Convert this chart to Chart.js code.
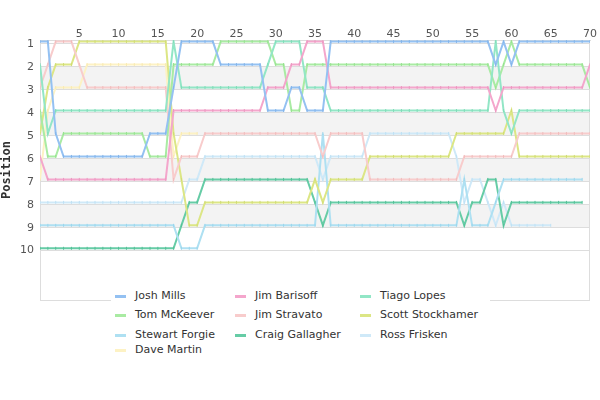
<!DOCTYPE html>
<html lang="en">
<head>
  <meta charset="UTF-8" />
  <title>Lap Chart</title>
  <script src="https://cdn.jsdelivr.net/npm/chart.js"></script>
  <style>
    html, body { margin: 0; padding: 0; background: white; }
    #wrap { position: relative; width: 600px; height: 400px; }
    #chart { position: absolute; left: 0; top: 0; }
    #legend {
      position: absolute; left: 111px; top: 286px; width: 379px; height: 76px;
      background: white; font-family: "DejaVu Sans", sans-serif; font-size: 11px; color: #333;
    }
    .item { position: absolute; white-space: nowrap; line-height: 14px; }
    .swatch { position: absolute; left: 0; top: 6px; width: 11px; height: 3px; }
    .label { position: absolute; left: 20px; top: 0; }
  </style>
</head>
<body>
  <div id="wrap">
    <canvas id="chart" width="600" height="400"></canvas>
    <div id="legend"></div>
  </div>
  <script>
    const laps = [0,1,2,3,4,5,6,7,8,9,10,11,12,13,14,15,16,17,18,19,20,21,22,23,24,25,26,27,28,29,30,
      31,32,33,34,35,36,37,38,39,40,41,42,43,44,45,46,47,48,49,50,51,52,53,54,55,56,57,58,59,60,
      61,62,63,64,65,66,67,68,69,70];
    const xTicks = [5,10,15,20,25,30,35,40,45,50,55,60,65,70];
    const yTicks = [1,2,3,4,5,6,7,8,9,10];

    const drivers = ['Josh Mills','Jim Barisoff','Tiago Lopes','Tom McKeever','Jim Stravato',
      'Scott Stockhamer','Stewart Forgie','Craig Gallagher','Ross Frisken','Dave Martin'];

    // position per lap, lap 0..70 (null = retired)
    const joshMills = [1,1,5,6,6,6,6,6,6,6,6,6,6,6,5,5,5,3,1,1,1,1,1,2,2,2,2,2,2,4,4,4,3,3,4,4,4,
      1,1,1,1,1,1,1,1,1,1,1,1,1,1,1,1,1,1,1,1,1,2,1,2,1,1,1,1,1,1,1,1,1,1];
    const jimBarisoff = [6,7,7,7,7,7,7,7,7,7,7,7,7,7,7,7,7,4,4,4,4,4,4,4,4,4,4,4,4,3,3,3,2,2,1,1,1,
      3,3,3,3,3,3,3,3,3,3,3,3,3,3,3,3,3,3,3,3,3,4,3,3,3,3,3,3,3,3,3,3,3,2];
    const tiagoLopes = [2,5,4,4,4,4,4,4,4,4,4,4,4,4,4,4,4,1,3,3,3,3,3,3,3,3,3,3,3,2,1,1,1,1,3,3,3,
      4,4,4,4,4,4,4,4,4,4,4,4,4,4,4,4,4,4,4,4,4,1,4,5,4,4,4,4,4,4,4,4,4,4];
    const tomMcKeever = [4,6,6,5,5,5,5,5,5,5,5,5,5,5,6,6,6,2,2,2,2,2,2,1,1,1,1,1,1,1,2,2,4,4,2,2,2,
      2,2,2,2,2,2,2,2,2,2,2,2,2,2,2,2,2,2,2,2,2,3,2,1,2,2,2,2,2,2,2,2,2,3];
    const jimStravato = [3,2,1,1,1,2,3,3,3,3,3,3,3,3,3,3,3,7,6,6,6,5,5,5,5,5,5,5,5,5,5,5,5,5,5,5,6,
      5,5,5,5,5,7,7,7,7,7,7,7,7,7,7,7,7,6,6,6,6,6,6,6,5,5,5,5,5,5,5,5,5,5];
    const scottStockhamer = [5,3,2,2,2,1,1,1,1,1,1,1,1,1,1,1,1,5,7,9,9,8,8,8,8,8,8,8,8,8,8,8,8,8,8,7,8,
      7,7,7,7,7,6,6,6,6,6,6,6,6,6,6,6,5,5,5,5,5,5,5,4,6,6,6,6,6,6,6,6,6,6];
    const stewartForgie = [9,9,9,9,9,9,9,9,9,9,9,9,9,9,9,9,9,9,10,10,10,9,9,9,9,9,9,9,9,9,9,9,9,9,9,9,5,
      9,9,9,9,9,9,9,9,9,9,9,9,9,9,9,9,9,7,9,9,9,8,7,7,7,7,7,7,7,7,7,7,7,null];
    const craigGallagher = [10,10,10,10,10,10,10,10,10,10,10,10,10,10,10,10,10,10,9,8,8,7,7,7,7,7,7,7,7,7,7,7,7,7,7,8,9,
      8,8,8,8,8,8,8,8,8,8,8,8,8,8,8,8,8,9,8,8,7,7,9,8,8,8,8,8,8,8,8,8,8,null];
    const rossFrisken = [8,8,8,8,8,8,8,8,8,8,8,8,8,8,8,8,8,8,8,7,7,6,6,6,6,6,6,6,6,6,6,6,6,6,6,6,7,
      6,6,6,6,6,5,5,5,5,5,5,5,5,5,5,5,6,8,7,7,8,9,8,9,9,9,9,9,9,null,null,null,null,null];
    const daveMartin = [7,4,3,3,3,3,2,2,2,2,2,2,2,2,2,2,2,6,5,5,5];

    const series = [joshMills, jimBarisoff, tiagoLopes, tomMcKeever, jimStravato,
      scottStockhamer, stewartForgie, craigGallagher, rossFrisken, daveMartin];
    const colors = ['#94c1f2','#f4a6cc','#92e6c6','#a9eba3','#f8cccc',
      '#dce685','#aee0f2','#66cca6','#cfe9f8','#fdf2c4'];
    const tickColors = ['#84b5ea','#eb98c0','#80dcb8','#97e290','#f0bcbc',
      '#d0dc74','#9cd6ec','#55c198','#bfe1f4','#f8eab2'];

    // grid sits a touch below the data rows, as in the original
    const gridShift = 0.1;

    // grey bands and outer frame of the plot
    const plotDecor = {
      id: 'plotDecor',
      beforeDraw(chart) {
        const { ctx, chartArea: a, scales } = chart;
        ctx.save();
        ctx.fillStyle = '#f3f3f3';
        [[2,3],[4,5],[6,7],[8,9]].forEach(([from, to]) => {
          const y1 = scales.y.getPixelForValue(from + gridShift);
          const y2 = scales.y.getPixelForValue(to + gridShift);
          ctx.fillRect(a.left, y1, a.right - a.left, y2 - y1);
        });
        ctx.restore();
      },
      beforeDatasetsDraw(chart) {
        const { ctx, chartArea: a } = chart;
        ctx.save();
        ctx.strokeStyle = '#dddddd';
        ctx.lineWidth = 1;
        ctx.strokeRect(a.left + 0.5, a.top + 0.5, a.right - a.left - 1, a.bottom - a.top);
        ctx.restore();
      }
    };

    const datasets = drivers.map((name, i) => ({
      label: name,
      data: series[i],
      borderColor: colors[i],
      backgroundColor: colors[i],
      borderWidth: 2,
      tension: 0,
      fill: false,
      pointStyle: 'line',
      rotation: 90,
      pointRadius: 1.5,
      pointBorderWidth: 1,
      pointBorderColor: tickColors[i],
      pointHoverRadius: 1.5
    }));

    new Chart(document.getElementById('chart'), {
      type: 'line',
      data: { labels: laps, datasets: datasets },
      options: {
        responsive: false,
        animation: false,
        layout: { padding: { left: 0, top: 0, right: 10, bottom: 100 } },
        plugins: { legend: { display: false }, tooltip: { enabled: false } },
        scales: {
          x: {
            type: 'linear',
            position: 'top',
            min: 0,
            max: 70,
            afterBuildTicks: scale => { scale.ticks = xTicks.map(v => ({ value: v })); },
            afterFit: scale => { scale.height = 40; },
            ticks: { color: '#545454', padding: -1, maxRotation: 0, font: { family: 'DejaVu Sans', size: 11 } },
            grid: { display: false, drawTicks: false },
            border: { display: true, color: '#dddddd' }
          },
          y: {
            type: 'linear',
            reverse: true,
            min: 0.93,
            max: 12.25,
            afterBuildTicks: scale => { scale.ticks = yTicks.map(v => ({ value: v + gridShift })); },
            afterFit: scale => { scale.width = 40; },
            ticks: {
              color: '#545454', padding: 6, font: { family: 'DejaVu Sans', size: 11 },
              callback: v => Math.round(v - gridShift)
            },
            grid: { color: '#dddddd', drawTicks: false },
            border: { display: true, color: '#dddddd' },
            title: {
              display: true,
              text: 'Position',
              color: '#333',
              padding: { top: 0, bottom: 0 },
              font: { family: 'DejaVu Sans Mono', size: 12, weight: 'bold' }
            }
          }
        }
      },
      plugins: [plotDecor]
    });

    // legend laid out as a 3-column grid like the original
    const legend = document.getElementById('legend');
    const colLeft = [4, 124, 249];
    const rowTop = [3, 22, 42, 57];
    drivers.forEach((name, i) => {
      const item = document.createElement('div');
      item.className = 'item';
      item.style.left = colLeft[i % 3] + 'px';
      item.style.top = rowTop[Math.floor(i / 3)] + 'px';
      item.innerHTML = '<span class="swatch" style="background:' + colors[i] + '"></span>' +
        '<span class="label">' + name + '</span>';
      legend.appendChild(item);
    });
  </script>
</body>
</html>
